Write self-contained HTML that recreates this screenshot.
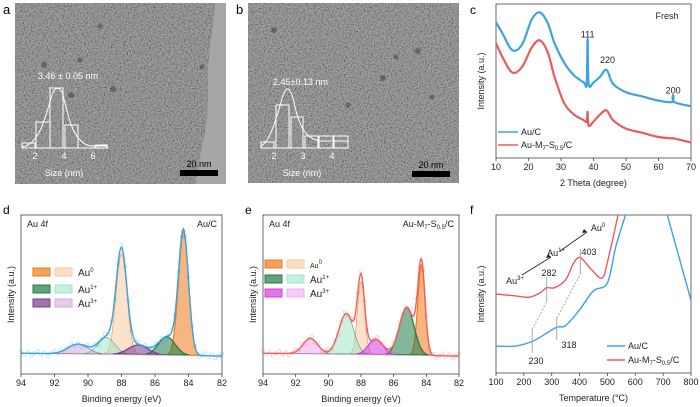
<!DOCTYPE html>
<html><head><meta charset="utf-8">
<style>
html,body{margin:0;padding:0;background:#fff;}
svg{display:block;font-family:"Liberation Sans",Arial,sans-serif;}
</style></head>
<body>
<svg id="fig" width="700" height="407" viewBox="0 0 700 407" xmlns="http://www.w3.org/2000/svg">
<defs>
<filter id="tem" x="0" y="0" width="100%" height="100%">
<feTurbulence type="fractalNoise" baseFrequency="0.7" numOctaves="2" seed="3"/>
<feColorMatrix type="matrix" values="1.6 0 0 0 -0.35  1.6 0 0 0 -0.35  1.6 0 0 0 -0.35  0 0 0 0 1"/>
</filter>
</defs>
<!-- TEM a -->
<g>
<rect x="15" y="3" width="211" height="181" filter="url(#tem)"/>
<rect x="15" y="3" width="211" height="181" fill="#7a7a7a" opacity="0.6"/>
<path d="M215,3 L226,3 L226,184 L196,184 C200,150 210,120 208,90 C206,60 214,30 215,3Z" fill="#a6a6a6"/>
<g fill="#333" opacity="0.45"><circle cx="44" cy="65" r="3"/><circle cx="113" cy="89" r="3"/><circle cx="71" cy="95" r="3"/><circle cx="100" cy="26" r="2.5"/><circle cx="202" cy="67" r="2.5"/><circle cx="80" cy="60" r="2.5"/></g>
<text x="3" y="14" font-size="13">a</text>
<text x="38" y="79" font-size="9" fill="#fff">3.46 ± 0.05 nm</text>
<g fill="none" stroke="#fff" stroke-width="1">
<line x1="22" y1="148" x2="108" y2="148"/>
<rect x="22" y="143" width="13" height="5"/><rect x="36" y="122" width="14" height="26"/><rect x="50" y="88" width="13" height="60"/><rect x="65" y="125" width="13" height="23"/><rect x="95" y="145" width="12" height="3"/>
<path d="M22,147 C38,145 45,120 52,95 C55,86 60,86 63,95 C70,125 75,142 90,146 L108,146"/>
</g>
<g fill="#fff" font-size="9" text-anchor="middle"><text x="35" y="159">2</text><text x="64" y="159">4</text><text x="93" y="159">6</text><text x="64" y="176">Size (nm)</text></g>
<rect x="180" y="170" width="38" height="6" fill="#000"/>
<text x="199" y="167" font-size="9" text-anchor="middle" fill="#000">20 nm</text>
</g>
<!-- TEM b -->
<g>
<rect x="248" y="3" width="211" height="180" filter="url(#tem)"/>
<rect x="248" y="3" width="211" height="180" fill="#7c7c7c" opacity="0.6"/>
<g fill="#333" opacity="0.45"><circle cx="274" cy="30" r="3"/><circle cx="383" cy="78" r="3"/><circle cx="418" cy="51" r="3"/><circle cx="396" cy="57" r="2.5"/><circle cx="348" cy="105" r="2.5"/><circle cx="432" cy="97" r="2.5"/></g>
<text x="236" y="14" font-size="13">b</text>
<text x="273" y="85" font-size="9" fill="#fff">2.45±0.13 nm</text>
<g fill="none" stroke="#fff" stroke-width="1">
<line x1="261" y1="148" x2="348" y2="148"/>
<rect x="261" y="142" width="13" height="6"/><rect x="276" y="105" width="13" height="43"/><rect x="291" y="117" width="12" height="31"/><rect x="305" y="136" width="13" height="12"/><rect x="319" y="136" width="14" height="12"/><rect x="334" y="136" width="14" height="12"/>
<path d="M261,146 C272,140 278,110 284,93 C287,86 290,88 293,98 C298,120 302,138 320,141 L348,141"/>
</g>
<g fill="#fff" font-size="9" text-anchor="middle"><text x="274" y="159">2</text><text x="303" y="159">3</text><text x="332" y="159">4</text><text x="302" y="176">Size (nm)</text></g>
<rect x="412" y="171" width="38" height="6" fill="#000"/>
<text x="431" y="168" font-size="9" text-anchor="middle" fill="#000">20 nm</text>
</g>
<g id="charts"></g>
</svg>
<script>
// ---------- Panel c: XRD ----------
const xrdTheta = [10, 12, 15, 18, 21, 23.5, 26, 28, 31, 34, 37, 37.9, 38.2, 38.5, 40, 42, 44, 46, 50, 55, 60, 64.2, 64.5, 64.8, 70];
const xrdAuC   = [97, 89, 77, 81, 99, 104, 96, 82, 68, 59, 54, 53, 85, 53, 54, 58, 63, 53, 47, 44, 41, 40, 45, 40, 37];
const xrdAuMS  = [82, 72, 61, 65, 79, 84, 75, 58, 39, 31, 27, 26, 33, 23, 26, 31, 34, 27, 21, 18, 15, 14, 14, 14, 11];
const xrdTicks = [10, 20, 30, 40, 50, 60, 70];
const xrdPeakLabels = ["111", "220", "200"];
const xrdPeakPos = [38.2, 44.3, 64.5];
const xrdPeakVal = [86, 68, 46];

// ---------- Panel d: XPS Au/C ----------
const xpsTicks = [94, 92, 90, 88, 86, 84, 82];
const dPeakCenters = [84.3, 88.0, 85.3, 88.9, 87.0, 90.6];
const dPeakAmps    = [88, 72, 13, 12, 7, 7];
const dPeakWidths  = [0.3, 0.32, 0.5, 0.5, 0.6, 0.6];
// ---------- Panel e: XPS Au-M7-S0.5/C ----------
const ePeakCenters = [84.3, 88.0, 85.2, 88.9, 87.1, 91.1];
const ePeakAmps    = [64, 52, 34, 29, 11, 11];
const ePeakWidths  = [0.22, 0.22, 0.45, 0.45, 0.45, 0.45];

// ---------- Panel f: TPR ----------
const tprTemp   = [100, 170, 230, 280, 318, 350, 400, 450, 500, 530, 565];
const tprAuC    = [17, 17, 20, 25, 29, 30, 40, 52, 57, 80, 100];
const tprTemp2  = [100, 160, 220, 260, 282, 310, 350, 380, 403, 440, 480, 500, 538];
const tprAuMS   = [50, 49, 48, 51, 54, 54, 59, 70, 73, 66, 60, 70, 100];
const tprTempTail = [715, 800];
const tprAuCTail  = [100, 46];
const tprTicks = [100, 200, 300, 400, 500, 600, 700, 800];

const NS = "http://www.w3.org/2000/svg";
const root = document.getElementById("charts");
function mk(tag, attrs, parent) {
  const e = document.createElementNS(NS, tag);
  for (const k in attrs) e.setAttribute(k, attrs[k]);
  (parent || root).appendChild(e);
  return e;
}
function txt(x, y, s, size, anchor, parent, fill) {
  const t = mk("text", {x: x, y: y, "font-size": size, "text-anchor": anchor || "middle", fill: fill || "#222"}, parent);
  t.textContent = s;
  return t;
}
function scale(d0, d1, r0, r1) { return v => r0 + (v - d0) / (d1 - d0) * (r1 - r0); }
function poly(xs, ys, sx, sy) { return xs.map((x, i) => (i ? "L" : "M") + sx(x).toFixed(1) + "," + sy(ys[i]).toFixed(1)).join(""); }
function smooth(xs, ys, sx, sy) {
  const P = xs.map((x, i) => [sx(x), sy(ys[i])]);
  let d = "M" + P[0][0].toFixed(1) + "," + P[0][1].toFixed(1);
  for (let i = 0; i < P.length - 1; i++) {
    const p0 = P[i - 1] || P[i], p1 = P[i], p2 = P[i + 1], p3 = P[i + 2] || p2;
    const c1 = [p1[0] + (p2[0] - p0[0]) / 6, p1[1] + (p2[1] - p0[1]) / 6];
    const c2 = [p2[0] - (p3[0] - p1[0]) / 6, p2[1] - (p3[1] - p1[1]) / 6];
    d += "C" + c1.map(v => v.toFixed(1)) + " " + c2.map(v => v.toFixed(1)) + " " + p2.map(v => v.toFixed(1));
  }
  return d;
}
function axesBox(g, x0, y0, x1, y1, ticks, sx, ytitle, xtitle, yTitleX) {
  mk("rect", {x: x0, y: y0, width: x1 - x0, height: y1 - y0, fill: "none", stroke: "#444", "stroke-width": 0.8}, g);
  ticks.forEach(t => {
    mk("line", {x1: sx(t), x2: sx(t), y1: y1, y2: y1 + 3, stroke: "#444", "stroke-width": 0.8}, g);
    txt(sx(t), y1 + 12, String(t), 9, "middle", g);
  });
  txt((x0 + x1) / 2, y1 + 28, xtitle, 9, "middle", g);
  const yt = txt(0, 0, ytitle, 9, "middle", g);
  yt.setAttribute("transform", "translate(" + yTitleX + "," + (y0 + y1) / 2 + ") rotate(-90)");
}

// ----- c -----
(function () {
  const g = mk("g", {});
  
  
  const sx = scale(10, 70, 496, 691), sy = scale(0, 110, 158, 4);
  axesBox(g, 496, 4, 691, 158, xrdTicks, sx, "Intensity (a.u.)", "2 Theta (degree)", 484);
  txt(470, 14, "c", 12, "start", g, "#000");
  txt(667, 19, "Fresh", 9, "middle", g);
  const b = mk("path", {d: smooth(xrdTheta, xrdAuC, sx, sy), fill: "none", stroke: "#3aa3e0", "stroke-width": 2.2}, g);
  
  
  const r = mk("path", {d: smooth(xrdTheta, xrdAuMS, sx, sy), fill: "none", stroke: "#e85c5c", "stroke-width": 2.2}, g);
  
  
  xrdPeakLabels.forEach((l, i) => {
    const t = txt(sx(xrdPeakPos[i]), sy(xrdPeakVal[i]), l, 9, "middle", g);
    
    
  });
  const lg = mk("g", {}, g);
  
  
  mk("line", {x1: 498, x2: 518, y1: 132, y2: 132, stroke: "#3aa3e0", "stroke-width": 1.6}, lg);
  txt(521, 135, "Au/C", 9, "start", lg);
  mk("line", {x1: 498, x2: 518, y1: 145, y2: 145, stroke: "#e85c5c", "stroke-width": 1.6}, lg);
  const t2 = txt(521, 148, "", 9, "start", lg);
  t2.innerHTML = 'Au-M<tspan font-size="6" dy="2">7</tspan><tspan dy="-2">-S</tspan><tspan font-size="6" dy="2">0.5</tspan><tspan dy="-2">/C</tspan>';
})();

// ----- XPS panels -----
const compColors = [["#f07a1a", "#f9c8a3"], ["#1f7a46", "#9fe6c8"], ["#7a3b8c", "#d8a9de"]];
const compColorsE = [["#f07a1a", "#f9c8a3"], ["#1f7a46", "#9fe6c8"], ["#d43ae0", "#f0a9f5"]];
function xpsPanel(name, letter, x0, x1, centers, amps, widths, envColor, cols, title) {
  const g = mk("g", {});
  
  
  const y0 = 215, y1 = 374;
  const sx = scale(94, 82, x0, x1), sy = scale(0, 100, 356, 215);
  axesBox(g, x0, y0, x1, y1, xpsTicks, sx, "Intensity (a.u.)", "Binding energy (eV)", x0 - 7);
  txt(x0 - 18, 214, letter, 12, "start", g, "#000");
  txt(x0 + 6, 227, "Au 4f", 9, "start", g);
  const tt = txt(x1 - 5, 227, "", 9, "end", g);
  tt.innerHTML = title;
  const bg = e => 2 * (e - 82) / 12;
  const es = [];
  for (let e = 94; e >= 82; e -= 0.05) es.push(+e.toFixed(2));
  centers.forEach((c, i) => {
    const col = cols[Math.floor(i / 2)][i % 2];
    const ys = es.map(e => bg(e) + amps[i] * Math.exp(-0.5 * ((e - c) / widths[i]) ** 2));
    const pts = es.filter((e, k) => ys[k] - bg(e) > 0.3);
    const d = poly(pts, pts.map(e => bg(e) + amps[i] * Math.exp(-0.5 * ((e - c) / widths[i]) ** 2)), sx, sy) + "Z";
    const p = mk("path", {d: d, fill: col, "fill-opacity": 0.55, stroke: cols[Math.floor(i / 2)][0], "stroke-width": i % 2 ? 0.5 : 1.2}, g);
    
    
  });
  const env = es.map(e => bg(e) + centers.reduce((s, c, i) => s + amps[i] * Math.exp(-0.5 * ((e - c) / widths[i]) ** 2), 0));
  const dots = mk("g", {}, g);
  
  
  es.forEach((e, k) => { if (k % 4 === 0) mk("circle", {cx: sx(e), cy: sy(env[k]) + ((k * 7) % 5 - 2) * 1.2, r: 1.6, fill: "none", stroke: envColor, "stroke-opacity": 0.45, "stroke-width": 0.6}, dots); });
  mk("path", {d: poly(es, es.map(bg), sx, sy), fill: "none", stroke: "#aaa", "stroke-width": 0.8}, g);
  const envp = mk("path", {d: poly(es, env, sx, sy), fill: "none", stroke: envColor, "stroke-width": 1.4}, g);
  
  
  return g;
}
const gd = xpsPanel("panel-d-xps-au-c", "d", 21, 222, dPeakCenters, dPeakAmps, dPeakWidths, "#3aa3e0", compColors, "Au/C");
const ge = xpsPanel("panel-e-xps-au-m7", "e", 263, 459, ePeakCenters, ePeakAmps, ePeakWidths, "#f06060", compColorsE,
  'Au-M<tspan font-size="6" dy="2">7</tspan><tspan dy="-2">-S</tspan><tspan font-size="6" dy="2">0.5</tspan><tspan dy="-2">/C</tspan>');
function xpsLegend(g, x, ys, cols, labels, fs) {
  const lg = mk("g", {}, g);
  
  
  ys.forEach((y, i) => {
    mk("rect", {x: x, y: y - 4, width: 17, height: 8, fill: cols[i][0], "fill-opacity": 0.7, stroke: cols[i][0]}, lg);
    mk("rect", {x: x + 22, y: y - 4, width: 17, height: 8, fill: cols[i][1], "fill-opacity": 0.6, stroke: cols[i][1]}, lg);
    const t = txt(x + 45, y + 4, "", fs[i], "start", lg);
    t.innerHTML = labels[i];
  });
}
const lbls = ['Au<tspan font-size="6" dy="-4">0</tspan>', 'Au<tspan font-size="6" dy="-4">1+</tspan>', 'Au<tspan font-size="6" dy="-4">3+</tspan>'];
xpsLegend(gd, 33, [272, 289, 303], compColors, lbls, [10, 10, 10]);
xpsLegend(ge, 265, [264, 279, 293], compColorsE, lbls, [7, 10, 10]);

// ----- f -----
(function () {
  const g = mk("g", {});
  
  
  const sx = scale(100, 800, 496, 691), sy = scale(0, 100, 373, 215);
  const clip = mk("clipPath", {id: "fclip"}, g);
  mk("rect", {x: 496, y: 215, width: 195, height: 158}, clip);
  axesBox(g, 496, 215, 691, 373, tprTicks, sx, "Intensity (a.u.)", "Temperature (\u00B0C)", 484);
  txt(470, 214, "f", 12, "start", g, "#000");
  const gg = mk("g", {"clip-path": "url(#fclip)"}, g);
  const b = mk("path", {d: smooth(tprTemp, tprAuC, sx, sy) + poly(tprTempTail, tprAuCTail, sx, sy), fill: "none", stroke: "#3aa3e0", "stroke-width": 1.4}, gg);
  
  
  const r = mk("path", {d: smooth(tprTemp2, tprAuMS, sx, sy), fill: "none", stroke: "#e85c5c", "stroke-width": 1.4}, gg);
  
  
  const an = mk("g", {stroke: "#aaa", "stroke-width": 1, fill: "none"}, g);
  mk("line", {x1: sx(230), y1: 329, x2: sx(230), y2: 353}, an);
  mk("line", {x1: sx(318), y1: 318, x2: sx(318), y2: 340}, an);
  mk("line", {x1: sx(282), y1: 277, x2: sx(282), y2: 302}, an);
  mk("line", {x1: sx(403), y1: 249, x2: sx(403), y2: 274}, an);
  mk("path", {d: "M" + sx(230) + ",329 L" + sx(282) + ",302 M" + sx(318) + ",318 L" + sx(403) + ",274", "stroke-dasharray": "2,1.5"}, an);
  txt(536, 364, "230", 9, "middle", g);
  txt(569, 348, "318", 9, "middle", g);
  txt(549, 276, "282", 9, "middle", g);
  txt(589, 255, "403", 9, "middle", g);
  const a1 = txt(515, 284, "", 9, "middle", g); a1.innerHTML = 'Au<tspan font-size="6" dy="-4">3+</tspan>';
  const a2 = txt(556, 256, "", 9, "middle", g); a2.innerHTML = 'Au<tspan font-size="6" dy="-4">1+</tspan>';
  const a3 = txt(598, 231, "", 9, "middle", g); a3.innerHTML = 'Au<tspan font-size="6" dy="-4">0</tspan>';
  mk("path", {d: "M522,275 L551,257 M560,251 L587,232", stroke: "#222", "stroke-width": 0.8, fill: "none"}, g);
  mk("path", {d: "M551,257 l-5,1 l2,-4Z M587,232 l-5,1 l2,-4Z", fill: "#222"}, g);
  const lg = mk("g", {}, g);
  
  
  mk("line", {x1: 607, x2: 625, y1: 346, y2: 346, stroke: "#3aa3e0", "stroke-width": 1.6}, lg);
  txt(628, 349, "Au/C", 9, "start", lg);
  mk("line", {x1: 607, x2: 625, y1: 360, y2: 360, stroke: "#e85c5c", "stroke-width": 1.6}, lg);
  const t2 = txt(628, 363, "", 9, "start", lg);
  t2.innerHTML = 'Au-M<tspan font-size="6" dy="2">7</tspan><tspan dy="-2">-S</tspan><tspan font-size="6" dy="2">0.5</tspan><tspan dy="-2">/C</tspan>';
})();
</script>
</body></html>
